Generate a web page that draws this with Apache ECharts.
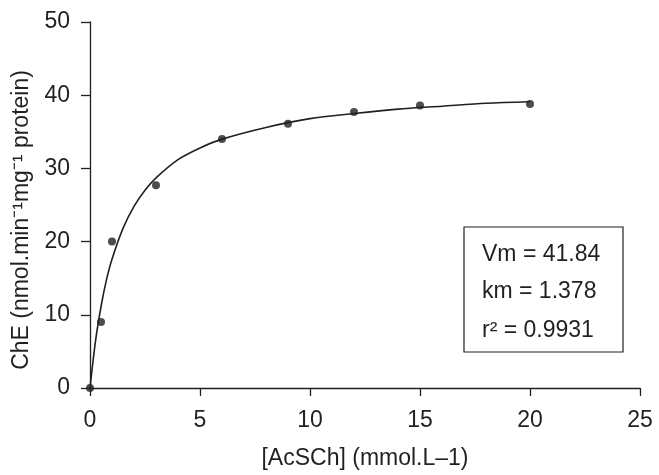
<!DOCTYPE html>
<html>
<head>
<meta charset="utf-8">
<script src="https://cdn.jsdelivr.net/npm/echarts@6/dist/echarts.min.js"></script>
<style>
  html, body { margin: 0; padding: 0; background: #fff; }
  #chart { width: 659px; height: 475px; }
</style>
</head>
<body>
<div id="chart"></div>
<script>
// measured points
const substrate = [0, 0.5, 1, 3, 6, 9, 12, 15, 20];
const activity = [0, 9, 20, 27.7, 34, 36.1, 37.7, 38.6, 38.8];

// fitted curve
const curveX = [0, 0.25, 0.5, 0.75, 1, 1.5, 2, 2.5, 3, 4, 5, 6, 8, 10, 12, 14, 16, 18, 20];
const curveY = [0, 6.4, 11.1, 14.8, 17.6, 21.8, 24.8, 27.0, 28.7, 31.2, 32.8, 34.0, 35.6, 36.8, 37.5, 38.1, 38.5, 38.9, 39.1];

const boxLines = ['Vm = 41.84', 'km = 1.378', 'r\u00b2 = 0.9931'];

const ink = '#231f20';
const font = '"Liberation Sans", Arial, sans-serif';
const fs = 23;

const chart = echarts.init(document.getElementById('chart'));

chart.setOption({
  animation: false,
  grid: { left: 90, right: 19, top: 22, bottom: 86 },
  textStyle: { fontFamily: font, color: ink },
  xAxis: {
    type: 'value',
    min: 0, max: 25, interval: 5,
    name: '[AcSCh] (mmol.L\u20131)',
    nameLocation: 'middle',
    nameGap: 59,
    nameTextStyle: { fontSize: fs, color: ink, fontFamily: font },
    axisLine: { onZero: false, lineStyle: { color: ink, width: 1.3 } },
    axisTick: { inside: false, length: 8, lineStyle: { color: ink, width: 1.3 } },
    axisLabel: { margin: 21, fontSize: fs, color: ink, fontFamily: font },
    splitLine: { show: false }
  },
  yAxis: {
    type: 'value',
    min: 0, max: 50, interval: 10,
    name: 'ChE (nmol.min\u207b\u00b9mg\u207b\u00b9 protein)',
    nameLocation: 'middle',
    nameGap: 57,
    nameTextStyle: { fontSize: fs, color: ink, fontFamily: font, padding: [0, 30, 0, 0] },
    axisLine: { show: true, lineStyle: { color: ink, width: 1.3 } },
    axisTick: { show: true, inside: false, length: 9, lineStyle: { color: ink, width: 1.3 } },
    axisLabel: { margin: 20, fontSize: fs, color: ink, fontFamily: font },
    splitLine: { show: false }
  },
  series: [
    {
      type: 'line',
      data: curveX.map((x, i) => [x, curveY[i]]),
      smooth: 0.3,
      showSymbol: false,
      lineStyle: { color: ink, width: 1.6 },
      z: 2
    },
    {
      type: 'scatter',
      data: substrate.map((x, i) => [x, activity[i]]),
      symbolSize: 8,
      itemStyle: { color: ink },
      z: 3
    }
  ],
  graphic: [
    {
      type: 'rect',
      shape: { x: 464, y: 227, width: 159, height: 125 },
      style: { fill: '#fff', stroke: ink, lineWidth: 1.2 }
    }
  ].concat(boxLines.map((t, i) => ({
    type: 'text',
    x: 482,
    y: [255, 292, 331][i],
    style: {
      text: t,
      font: fs + 'px ' + font,
      fill: ink,
      verticalAlign: 'middle'
    }
  })))
});
</script>
</body>
</html>
